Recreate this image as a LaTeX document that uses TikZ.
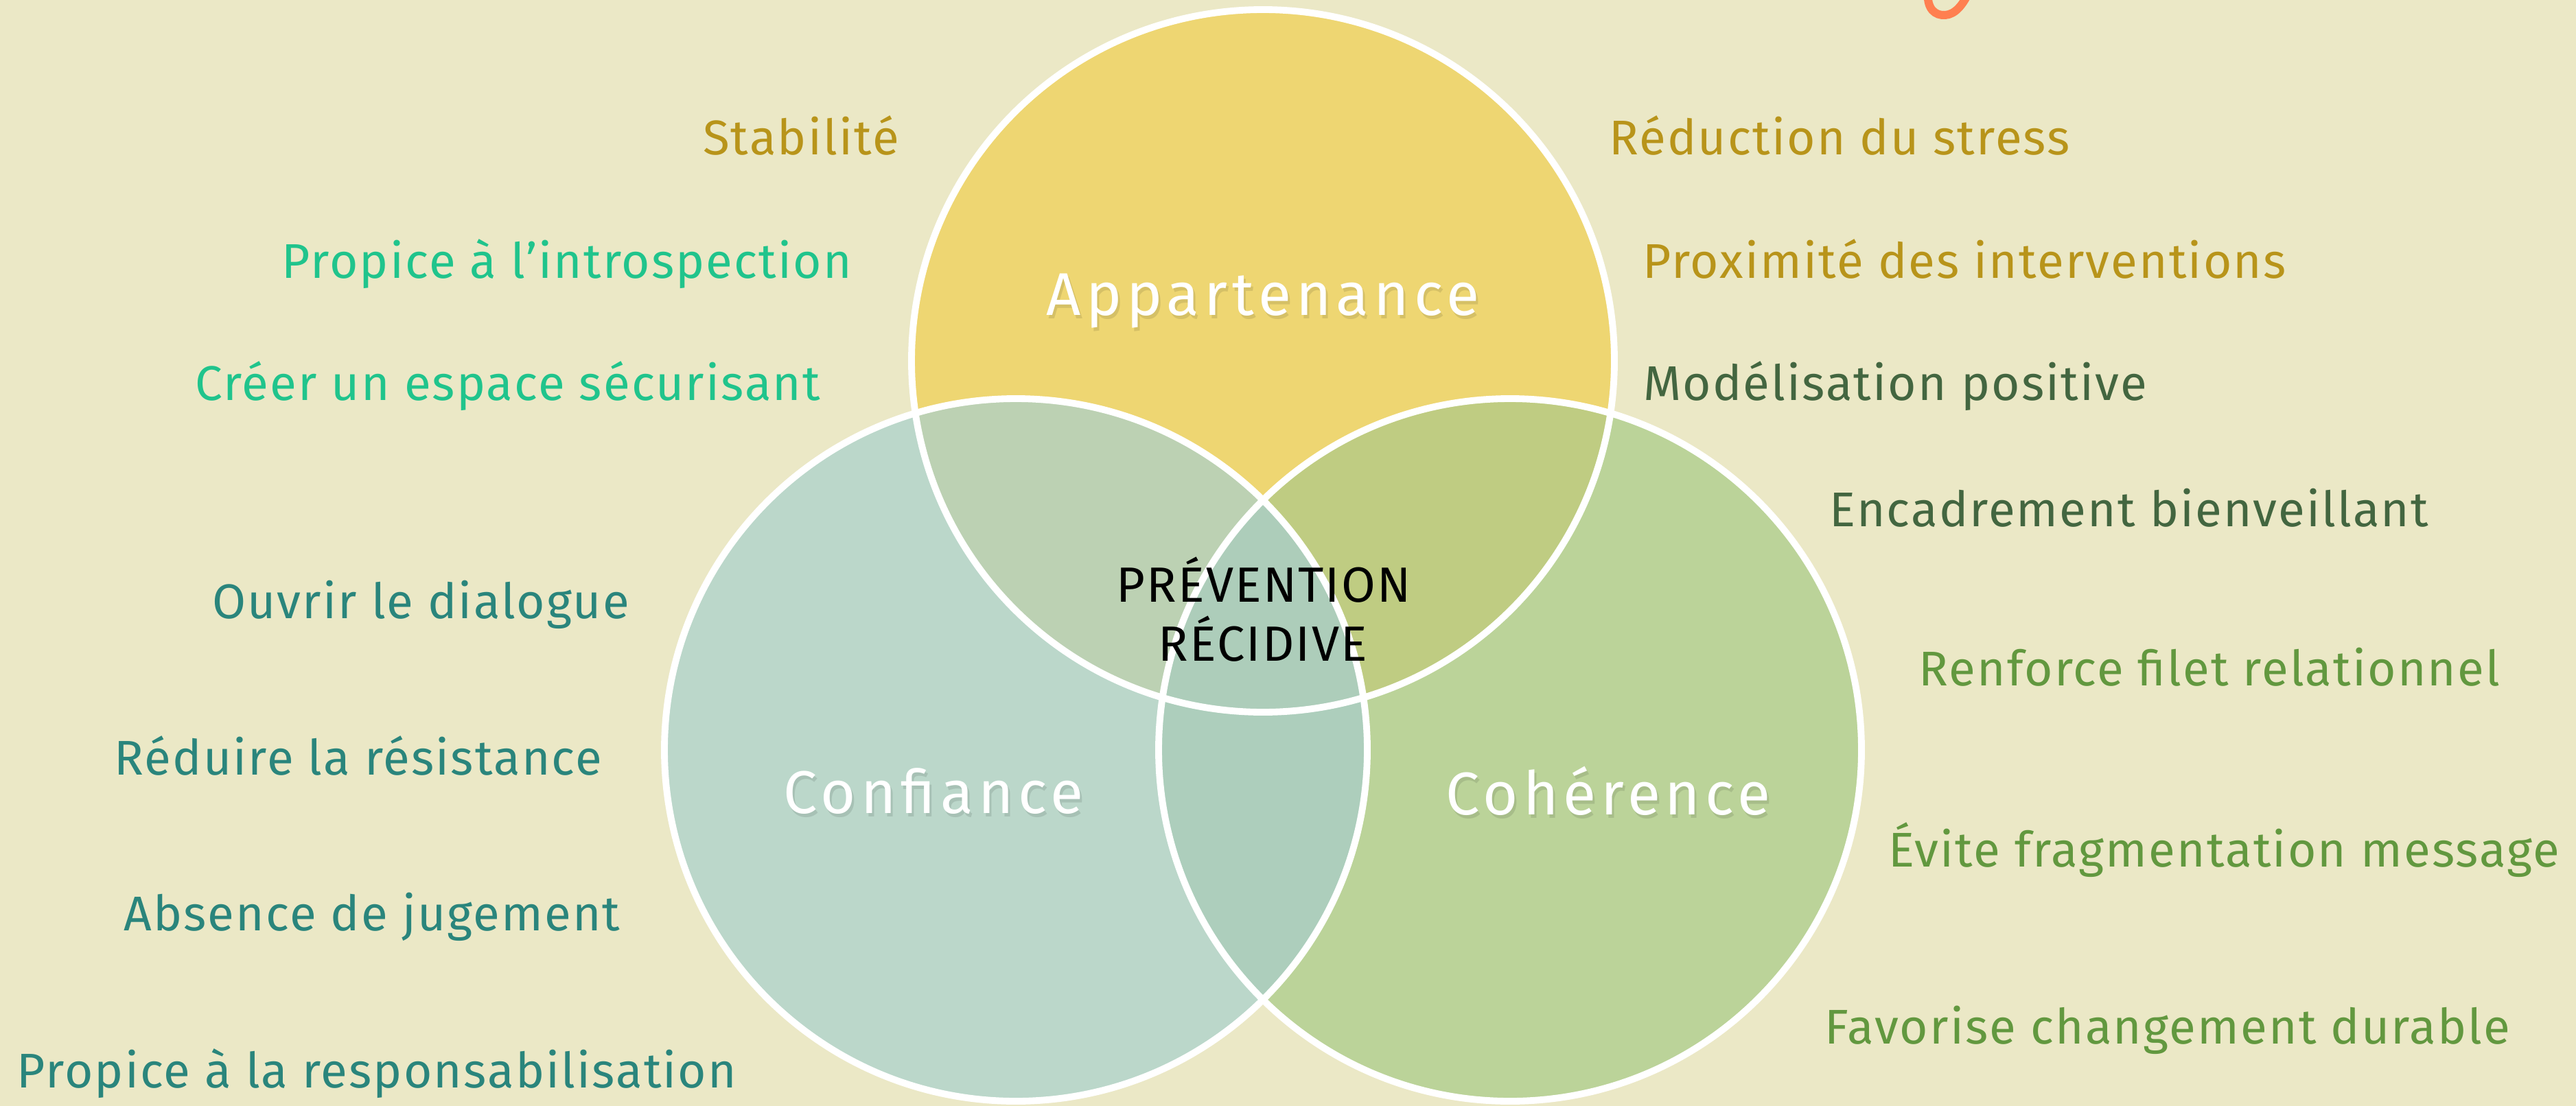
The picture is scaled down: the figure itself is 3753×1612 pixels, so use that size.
\documentclass[tikz,border=0pt]{standalone}
\usepackage{fontspec}
\setmainfont{Fira Sans}
\newfontfamily\hand{Fira Sans}[LetterSpace=3]
\newfontfamily\handwide{Fira Sans}[LetterSpace=8]

\definecolor{bg}{HTML}{EBE8C6}
\definecolor{fillA}{HTML}{EED672}
\definecolor{fillC}{HTML}{BBD7CA}
\definecolor{fillH}{HTML}{BBD399}
\definecolor{fillAC}{HTML}{BCD1B3}
\definecolor{fillAH}{HTML}{BFCC82}
\definecolor{fillCH}{HTML}{ADCEBC}
\definecolor{fillACH}{HTML}{ADCDBA}
\definecolor{gold}{HTML}{B8941A}
\definecolor{mint}{HTML}{20C48C}
\definecolor{teal}{HTML}{2A857C}
\definecolor{forest}{HTML}{436640}
\definecolor{leaf}{HTML}{62983F}
\definecolor{coral}{HTML}{FF7F50}

\tikzset{
  side/.style={anchor=base, inner sep=0pt, font=\hand\fontsize{20.2}{24}\selectfont},
  big/.style={anchor=base, inner sep=0pt, text=white, font=\handwide\fontsize{25}{30}\selectfont},
  bigshadow/.style={anchor=base, inner sep=0pt, text=black, opacity=0.10, font=\handwide\fontsize{25}{30}\selectfont},
  core/.style={anchor=base, inner sep=0pt, text=black, font=\hand\fontsize{20.5}{24}\selectfont},
  ring/.style={draw=white, line width=2.8pt},
}

\begin{document}
\begin{tikzpicture}[x=0.01cm, y=-0.01cm]
  % canvas
  \fill[bg] (0,0) rectangle (3753,1612);
  \useasboundingbox (0,0) rectangle (3753,1612);

  \def\R{512}
  \coordinate (cA) at (1840,526);
  \coordinate (cC) at (1480,1093);
  \coordinate (cH) at (2200,1093);

  % the three sets
  \fill[fillA] (cA) circle[radius=\R];
  \fill[fillC] (cC) circle[radius=\R];
  \fill[fillH] (cH) circle[radius=\R];

  % pairwise overlaps
  \begin{scope}
    \clip (cA) circle[radius=\R];
    \fill[fillAC] (cC) circle[radius=\R];
    \fill[fillAH] (cH) circle[radius=\R];
  \end{scope}
  \begin{scope}
    \clip (cC) circle[radius=\R];
    \fill[fillCH] (cH) circle[radius=\R];
  \end{scope}
  % common core
  \begin{scope}
    \clip (cA) circle[radius=\R];
    \clip (cC) circle[radius=\R];
    \fill[fillACH] (cH) circle[radius=\R];
  \end{scope}

  % white outlines
  \draw[ring] (cA) circle[radius=\R];
  \draw[ring] (cC) circle[radius=\R];
  \draw[ring] (cH) circle[radius=\R];

  % set names
  \node[bigshadow] at (1843,464) {Appartenance};
  \node[big] (appartenance) at (1840,459) {Appartenance};
  \node[bigshadow] at (1363,1190) {Confiance};
  \node[big] (confiance) at (1360,1185) {Confiance};
  \node[bigshadow] at (2346,1192) {Cohérence};
  \node[big] (coherence) at (2343,1187) {Cohérence};

  \node[core] (prevention) at (1841,877) {PRÉVENTION};
  \node[core] (recidive) at (1840,963) {RÉCIDIVE};

  % left column
  \node[side, text=gold] (stabilite) at (1167,225) {Stabilité};
  \node[side, text=mint] (introspection) at (826,405) {Propice à l’introspection};
  \node[side, text=mint] (espace) at (740,583) {Créer un espace sécurisant};
  \node[side, text=teal] (dialogue) at (613,901) {Ouvrir le dialogue};
  \node[side, text=teal] (resistance) at (522,1129) {Réduire la résistance};
  \node[side, text=teal] (jugement) at (542,1356) {Absence de jugement};
  \node[side, text=teal] (responsabilisation) at (549,1585) {Propice à la responsabilisation};

  % right column
  \node[side, text=gold] (stress) at (2680,225) {Réduction du stress};
  \node[side, text=gold] (proximite) at (2862,405) {Proximité des interventions};
  \node[side, text=forest] (modelisation) at (2761,583) {Modélisation positive};
  \node[side, text=forest] (encadrement) at (3102,767) {Encadrement bienveillant};
  \node[side, text=leaf] (filet) at (3219,999) {Renforce filet relationnel};
  \node[side, text=leaf] (fragmentation) at (3240,1263) {Évite fragmentation message};
  \node[side, text=leaf] (changement) at (3158,1521) {Favorise changement durable};

  % orange stroke at the top edge
  \draw[coral, line width=3.4pt, line cap=round]
    (2809,-15) .. controls (2806,14) and (2820,23) .. (2834,22)
    .. controls (2848,21) and (2860,8) .. (2870,-15);
\end{tikzpicture}
\end{document}
